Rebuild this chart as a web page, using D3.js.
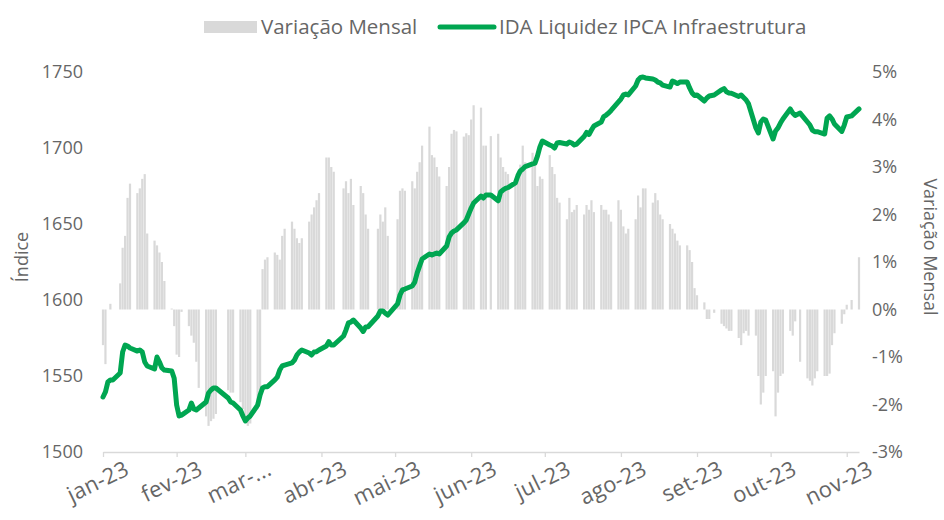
<!DOCTYPE html>
<html><head><meta charset="utf-8">
<script src="https://cdn.jsdelivr.net/npm/d3@7"></script>
<style>html,body{margin:0;padding:0;background:#fff;} svg{display:block;font-family:"Open Sans",sans-serif;}</style>
</head><body><svg id="chart" width="944" height="520"></svg>
<script>
// ---- data ----
const monthTickLabels = ["jan-23","fev-23","mar-...","abr-23","mai-23","jun-23","jul-23","ago-23","set-23","out-23","nov-23"];
const leftTicks = [1500,1550,1600,1650,1700,1750];
const rightTicks = [-3,-2,-1,0,1,2,3,4,5];

// business days of each month of 2023 (jan..nov)
const tradingDays = [
  [2,3,4,5,6,9,10,11,12,13,16,17,18,19,20,23,24,25,26,27,30,31],
  [1,2,3,6,7,8,9,10,13,14,15,16,17,22,23,24,27,28],
  [1,2,3,6,7,8,9,10,13,14,15,16,17,20,21,22,23,24,27,28,29,30,31],
  [3,4,5,6,10,11,12,13,14,17,18,19,20,24,25,26,27,28],
  [2,3,4,5,8,9,10,11,12,15,16,17,18,19,22,23,24,25,26,29,30,31],
  [1,2,5,6,7,9,12,13,14,15,16,19,20,21,22,23,26,27,28,29,30],
  [3,4,5,6,7,10,11,12,13,14,17,18,19,20,21,24,25,26,27,28,31],
  [1,2,3,4,7,8,9,10,11,14,15,16,17,18,21,22,23,24,25,28,29,30,31],
  [1,4,5,6,8,11,12,13,14,15,18,19,20,21,22,25,26,27,28,29],
  [2,3,4,5,6,9,10,11,13,16,17,18,19,20,23,24,25,26,27,30,31],
  [1,3,6]
];

// IDA Liquidez IPCA Infraestrutura (index level, left axis)
const indexLevels = [
  [1536.2,1539.5,1546.1,1547.4,1547.4,1552.0,1565.8,1570.4,1569.7,1568.4,1566.4,1567.1,1565.8,1559.2,1556.6,1554.6,1562.5,1559.2,1555.3,1553.9,1553.3,1548.5],
  [1530.9,1523.7,1524.3,1527.6,1532.2,1528.3,1527.6,1528.9,1532.9,1538.8,1540.8,1542.1,1542.1,1535.5,1532.9,1532.2,1527.6,1523.7],
  [1520.4,1522.4,1523.7,1530.9,1537.5,1542.1,1543.0,1543.0,1547.4,1549.3,1553.9,1556.6,1557.2,1558.6,1560.5,1563.8,1565.8,1567.1,1565.1,1563.8,1565.8,1566.0,1567.1],
  [1569.7,1572.6,1570.4,1570.4,1576.3,1580.3,1584.9,1585.5,1586.8,1581.6,1579.3,1582.2,1582.4,1589.5,1592.8,1592.8,1591.3,1590.1],
  [1597.4,1603.3,1606.6,1607.2,1609.2,1611.8,1617.8,1622.4,1627.0,1630.3,1629.6,1630.3,1630.9,1630.3,1635.5,1641.4,1644.1,1645.4,1646.1,1650.7,1652.6,1656.6],
  [1660.5,1663.8,1668.4,1667.1,1669.1,1669.1,1665.3,1671.1,1672.4,1673.4,1674.0,1677.0,1681.6,1684.9,1686.2,1687.8,1689.5,1690.1,1694.7,1700.7,1704.6],
  [1702.0,1701.3,1700.0,1703.3,1703.6,1702.6,1703.9,1703.3,1702.0,1702.6,1707.6,1710.2,1708.9,1711.8,1714.5,1717.1,1720.7,1721.7,1723.0,1724.7,1730.3],
  [1732.2,1734.9,1735.5,1734.9,1740.8,1744.7,1746.4,1746.7,1746.1,1745.4,1744.7,1743.4,1742.8,1741.4,1740.1,1744.1,1743.4,1742.4,1743.4,1743.4,1739.5,1736.2,1734.5],
  [1734.9,1730.9,1732.9,1734.2,1734.9,1738.2,1739.1,1737.0,1736.2,1736.0,1733.9,1734.9,1733.2,1731.6,1729.0,1713.2,1709.9,1717.1,1719.1,1718.4],
  [1705.9,1711.2,1713.2,1716.4,1719.1,1725.7,1723.0,1721.4,1723.0,1717.1,1715.1,1711.8,1710.7,1710.7,1709.2,1719.7,1721.1,1719.1,1715.8,1710.9,1715.1],
  [1720.4,1721.1,1725.7]
];

// Variação Mensal (%, right axis)
const monthlyVariation = [
  [-0.75,-1.15,0.0,0.12,0.0,0.55,1.3,1.55,2.35,2.65,2.45,2.55,2.75,2.85,1.6,1.45,1.35,1.2,1.0,0.6,0.02,-0.35],
  [-0.95,-1.0,-0.05,-0.35,-0.55,-0.7,-1.1,-1.65,-2.25,-2.45,-2.35,-2.3,-2.2,-1.7,-1.75,-1.75,-1.95,-2.1],
  [-2.3,-2.45,-2.4,-2.1,-1.7,0.85,1.05,1.1,1.2,1.15,1.05,1.55,1.7,1.85,1.7,1.5,1.4,1.5,1.85,2.0,2.15,2.3,2.45],
  [3.2,3.2,3.0,2.9,2.55,2.7,2.45,2.75,2.2,2.6,2.45,2.0,1.7,1.7,2.0,1.85,2.15,1.55],
  [1.9,2.5,2.55,2.5,2.7,2.55,2.9,3.1,3.45,3.85,3.25,3.2,3.0,2.8,2.6,3.0,3.7,3.78,3.75,3.64,3.71,3.67],
  [4.0,4.3,4.25,3.45,3.45,3.65,3.7,3.2,3.0,2.9,2.85,2.75,2.8,3.05,3.45,3.1,3.3,3.2,2.6,2.8,2.75],
  [3.25,3.0,2.85,2.35,2.25,1.9,2.35,2.05,2.1,2.2,2.0,2.2,2.1,2.3,2.05,2.2,2.1,2.1,2.0,1.85,2.3],
  [2.1,1.75,1.6,1.7,1.9,2.4,2.15,2.55,2.55,2.25,2.45,2.3,2.0,1.9,1.8,1.7,1.6,1.45,1.35,1.35,1.25,1.0,0.45],
  [0.3,0.15,-0.2,-0.2,-0.07,-0.3,-0.35,-0.4,-0.45,-0.45,-0.6,-0.75,-0.5,-0.45,-0.55,-0.55,-1.4,-2.0,-1.75,-1.4],
  [-1.3,-2.25,-1.75,-1.4,-1.35,-0.45,-0.55,-0.25,-1.1,-1.45,-1.5,-1.6,-1.45,-1.3,-1.4,-1.4,-1.35,-0.75,-0.5,-0.3,-0.1],
  [0.1,0.2,1.1]
];

// ---- build rows ----
const rows = [];
tradingDays.forEach((days, m) => {
  days.forEach((d, j) => {
    rows.push({date: new Date(2023, m, d), idx: indexLevels[m][j], mv: monthlyVariation[m][j]});
  });
});

const GREEN = "#00a651", BAR = "#d9d9d9", TXT = "#666666";
const FONT = '"Open Sans",sans-serif';
const svg = d3.select("#chart");

const x = d3.scaleTime()
  .domain([new Date(2023,0,2), new Date(2023,10,6)])
  .range([103, 859]);
const yL = d3.scaleLinear().domain([1500, 1750]).range([452, 72]);
const yR = d3.scaleLinear().domain([-3, 5]).range([452, 72]);

const tickDates = monthTickLabels.map((_, m) => m === 0 ? new Date(2023,0,2) : new Date(2023, m, 1));

// bars
const bw = 2.2;
svg.append("g").selectAll("rect").data(rows).join("rect")
  .attr("x", d => x(d.date) - bw/2)
  .attr("width", bw)
  .attr("y", d => Math.min(yR(0), yR(d.mv)))
  .attr("height", d => Math.abs(yR(d.mv) - yR(0)))
  .attr("fill", BAR);

// bottom axis
const xAxis = d3.axisBottom(x).tickValues(tickDates).tickSize(5).tickSizeOuter(0).tickFormat((d,i) => monthTickLabels[i]);
const gx = svg.append("g").attr("transform", "translate(0,452)").call(xAxis);
gx.select(".domain").attr("stroke", "#d9d9d9").attr("stroke-width", 1.3);
gx.selectAll(".tick line").attr("stroke", "#d9d9d9").attr("stroke-width", 1.3);
gx.selectAll(".tick text")
  .attr("fill", TXT).attr("font-size", 22).attr("font-family", FONT).attr("letter-spacing", 0.3)
  .attr("text-anchor", "end").attr("dy", null).attr("y", 0)
  .attr("transform", "translate(27,22) rotate(-26)");

// left axis
const gl = svg.append("g").attr("transform", "translate(88,0)")
  .call(d3.axisLeft(yL).tickValues(leftTicks).tickSize(0).tickPadding(5).tickFormat(d3.format("d")));
gl.select(".domain").remove();
gl.selectAll("text").attr("fill", TXT).attr("font-size", 18).attr("font-family", FONT);

// right axis
const gr = svg.append("g").attr("transform", "translate(866,0)")
  .call(d3.axisRight(yR).tickValues(rightTicks).tickSize(0).tickPadding(6).tickFormat(d => d + "%"));
gr.select(".domain").remove();
gr.selectAll("text").attr("fill", TXT).attr("font-size", 18).attr("font-family", FONT);

// line
const line = d3.line().x(d => x(d.date)).y(d => yL(d.idx));
svg.append("path").datum(rows)
  .attr("d", line).attr("fill", "none").attr("stroke", GREEN)
  .attr("stroke-width", 5).attr("stroke-linejoin", "round").attr("stroke-linecap", "round");

// axis titles
svg.append("text").attr("transform", "translate(28,257) rotate(-90)")
  .attr("text-anchor", "middle").attr("fill", TXT).attr("font-size", 18).text("Índice");
svg.append("text").attr("transform", "translate(924,247) rotate(90)")
  .attr("text-anchor", "middle").attr("fill", TXT).attr("font-size", 18).text("Variação Mensal");

// legend
const lg = svg.append("g");
lg.append("rect").attr("x", 204).attr("y", 21).attr("width", 53).attr("height", 12).attr("fill", BAR);
lg.append("text").attr("x", 261).attr("y", 27).attr("dy", "0.35em").attr("fill", TXT).attr("font-size", 20.5).text("Variação Mensal");
lg.append("line").attr("x1", 440).attr("x2", 494).attr("y1", 27).attr("y2", 27)
  .attr("stroke", GREEN).attr("stroke-width", 5).attr("stroke-linecap", "round");
lg.append("text").attr("x", 499).attr("y", 27).attr("dy", "0.35em").attr("fill", TXT).attr("font-size", 20.5).text("IDA Liquidez IPCA Infraestrutura");
</script>
</body></html>
